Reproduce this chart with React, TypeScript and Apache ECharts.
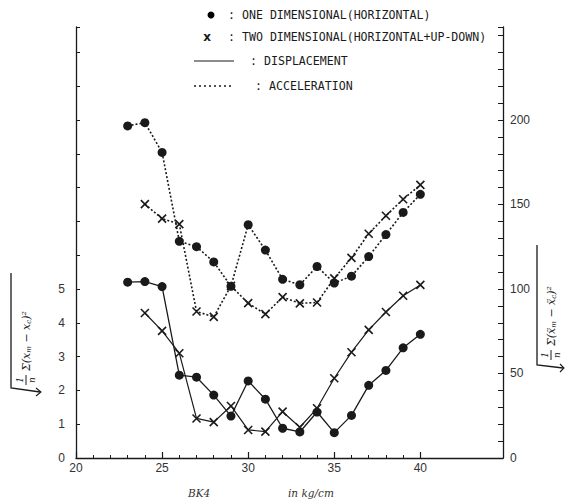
import React, { useEffect, useRef } from "react";
import * as echarts from "echarts";

const xValues = [23, 24, 25, 26, 27, 28, 29, 30, 31, 32, 33, 34, 35, 36, 37, 38, 39, 40];
// displacement (left axis)
const dispOne = [5.2, 5.22, 5.07, 2.45, 2.39, 1.86, 1.24, 2.28, 1.74, 0.88, 0.77, 1.36, 0.75, 1.26, 2.15, 2.59, 3.26, 3.66];
const dispTwo = [null, 4.29, 3.76, 3.1, 1.17, 1.06, 1.54, 0.83, 0.78, 1.37, 0.91, 1.47, 2.36, 3.13, 3.79, 4.32, 4.8, 5.12];
// acceleration (right axis)
const accOne = [196.5, 198.4, 180.8, 128.2, 125, 116, 101.6, 138, 123, 105.7, 102.5, 113.3, 103.5, 107.6, 119.2, 132.2, 145.3, 156];
const accTwo = [null, 150.2, 141.6, 138.4, 86.7, 83.5, 101.8, 91.6, 85.1, 95.2, 91.5, 92, 106.3, 118.4, 132.7, 143.3, 153.1, 161.6];

const xLabelValues = [20, 25, 30, 35, 40];
const xMinorTicks = [20, 21, 22, 23, 24, 25, 26, 27, 28, 29, 30, 31, 32, 33, 34, 35, 36, 37, 38, 39, 40];
const leftLabels = [0, 1, 2, 3, 4, 5];
const rightLabels = [0, 50, 100, 150, 200];

const legendOne = ": ONE DIMENSIONAL(HORIZONTAL)";
const legendTwo = ": TWO DIMENSIONAL(HORIZONTAL+UP-DOWN)";
const legendDisp = ": DISPLACEMENT";
const legendAcc = ": ACCELERATION";

const INK = "#1a1a1a";
const X_PATH = "path://M0,0L10,10M10,0L0,10";

function pairs(vals: (number | null)[]) {
  const out: [number, number][] = [];
  vals.forEach((v, i) => {
    if (v !== null) out.push([xValues[i], v]);
  });
  return out;
}

function formulaGroup(cx: number, cy: number, body: string) {
  const f = { fontFamily: "DejaVu Serif", fontStyle: "italic", fill: INK } as any;
  return {
    type: "group",
    x: cx,
    y: cy,
    rotation: Math.PI / 2,
    children: [
      { type: "text", x: -50, y: -6, style: { ...f, text: "1", fontSize: 9, textAlign: "center", textVerticalAlign: "middle" } },
      { type: "line", shape: { x1: -55, y1: 0, x2: -45, y2: 0 }, style: { stroke: INK, lineWidth: 1 } },
      { type: "text", x: -50, y: 6, style: { ...f, text: "n", fontSize: 9, textAlign: "center", textVerticalAlign: "middle" } },
      {
        type: "text",
        x: -41,
        y: 0,
        style: {
          ...f,
          text: body,
          fontSize: 11,
          textAlign: "left",
          textVerticalAlign: "middle",
          rich: { s: { fontFamily: "DejaVu Serif", fontStyle: "italic", fontSize: 7, verticalAlign: "bottom", padding: [6, 0, 0, 0] } },
        },
      },
    ],
  };
}

export default function App() {
  const ref = useRef<HTMLDivElement>(null);
  useEffect(() => {
    if (!ref.current) return;
    const chart = echarts.init(ref.current, undefined, { renderer: "svg" });
    const legendFont = { fontFamily: "DejaVu Sans Mono", fontSize: 11.6, fill: INK };
    const dotStyle = { color: INK };
    chart.setOption({
      animation: false,
      backgroundColor: "#fff",
      grid: { left: 76, right: 64, top: 27, bottom: 46, containLabel: false },
      xAxis: [
        {
          type: "value",
          min: 20,
          max: 44.8,
          interval: 1,
          splitLine: { show: false },
          axisLine: { show: true, lineStyle: { color: INK, width: 1.3 } },
          axisTick: { show: true, inside: true, length: 3, customValues: xMinorTicks, lineStyle: { color: INK } },
          axisLabel: {
            customValues: xLabelValues,
            color: "#333",
            fontFamily: "Liberation Sans",
            fontSize: 12,
            margin: 4,
          },
        },
        {
          type: "value",
          position: "bottom",
          min: 20,
          max: 44.8,
          interval: 5,
          splitLine: { show: false },
          axisLine: { show: false },
          axisTick: { show: true, inside: true, length: 6, customValues: xLabelValues, lineStyle: { color: INK, width: 1.2 } },
          axisLabel: { show: false },
        },
      ],
      yAxis: [
        {
          type: "value",
          position: "left",
          min: 0,
          max: 12.75,
          interval: 1,
          splitLine: { show: false },
          axisLine: { show: true, lineStyle: { color: INK, width: 1.3 } },
          axisTick: { show: true, inside: true, length: 4, lineStyle: { color: INK } },
          axisLabel: {
            customValues: leftLabels,
            color: "#333",
            fontFamily: "Liberation Sans",
            fontSize: 12,
            margin: 11,
          },
        },
        {
          type: "value",
          position: "right",
          min: 0,
          max: 255,
          interval: 10,
          splitLine: { show: false },
          axisLine: { show: true, lineStyle: { color: INK, width: 1.3 } },
          axisTick: { show: true, inside: true, length: 5, lineStyle: { color: INK } },
          axisLabel: {
            customValues: rightLabels,
            color: "#333",
            fontFamily: "Liberation Sans",
            fontSize: 12,
            margin: 7,
          },
        },
      ],
      series: [
        {
          type: "line",
          name: "dispOne",
          yAxisIndex: 0,
          data: pairs(dispOne),
          symbol: "circle",
          symbolSize: 9,
          itemStyle: { color: INK },
          lineStyle: { color: INK, width: 1.3, type: "solid" },
        },
        {
          type: "line",
          name: "dispTwo",
          yAxisIndex: 0,
          data: pairs(dispTwo),
          symbol: X_PATH,
          symbolSize: 8,
          itemStyle: { color: "none", borderColor: INK, borderWidth: 1.6 },
          lineStyle: { color: INK, width: 1.2, type: "solid" },
        },
        {
          type: "line",
          name: "accOne",
          yAxisIndex: 1,
          data: pairs(accOne),
          symbol: "circle",
          symbolSize: 9,
          itemStyle: { color: INK },
          lineStyle: { color: INK, width: 1.6, type: [2, 2] },
        },
        {
          type: "line",
          name: "accTwo",
          yAxisIndex: 1,
          data: pairs(accTwo),
          symbol: X_PATH,
          symbolSize: 8,
          itemStyle: { color: "none", borderColor: INK, borderWidth: 1.6 },
          lineStyle: { color: INK, width: 1.6, type: [2, 2] },
        },
      ],
      graphic: [
        { type: "circle", shape: { cx: 211, cy: 15, r: 3.5 }, style: dotStyle },
        { type: "text", x: 228, y: 15, style: { text: legendOne, ...legendFont, textVerticalAlign: "middle" } },
        { type: "text", x: 207, y: 37, style: { text: "x", fontFamily: "DejaVu Sans", fontSize: 12, fontWeight: "bold", fill: INK, textAlign: "center", textVerticalAlign: "middle" } },
        { type: "text", x: 228, y: 37, style: { text: legendTwo, ...legendFont, textVerticalAlign: "middle" } },
        { type: "line", shape: { x1: 194, y1: 61, x2: 234, y2: 61 }, style: { stroke: INK, lineWidth: 1.2 } },
        { type: "text", x: 250, y: 61, style: { text: legendDisp, ...legendFont, textVerticalAlign: "middle" } },
        { type: "line", shape: { x1: 194, y1: 86, x2: 234, y2: 86 }, style: { stroke: INK, lineWidth: 1.4, lineDash: [2, 3] } },
        { type: "text", x: 255, y: 86, style: { text: legendAcc, ...legendFont, textVerticalAlign: "middle" } },
        // left axis title (radical + expression)
        { type: "polyline", shape: { points: [[11, 273], [11, 388], [40, 392]] }, style: { stroke: INK, lineWidth: 1.3, fill: "none" } },
        { type: "polyline", shape: { points: [[36, 388], [41, 392], [36, 396]] }, style: { stroke: INK, lineWidth: 1.1, fill: "none" } },
        formulaGroup(26, 330, "Σ(x{s|m} − x{s|c})²"),
        // right axis title
        { type: "polyline", shape: { points: [[537, 245], [537, 365], [563, 368]] }, style: { stroke: INK, lineWidth: 1.3, fill: "none" } },
        { type: "polyline", shape: { points: [[560, 364], [564, 368], [560, 372]] }, style: { stroke: INK, lineWidth: 1.1, fill: "none" } },
        formulaGroup(551, 305, "Σ(ẍ{s|m} − ẍ{s|c})²"),
        // x axis title
        { type: "text", x: 188, y: 493, style: { text: "BK4", fontFamily: "DejaVu Serif", fontStyle: "italic", fontSize: 10.5, fill: "#333", textVerticalAlign: "middle" } },
        { type: "text", x: 288, y: 493, style: { text: "in kg/cm", fontFamily: "DejaVu Serif", fontStyle: "italic", fontSize: 10.5, fill: "#333", textVerticalAlign: "middle" } },
      ],
    });
    return () => chart.dispose();
  }, []);
  return <div ref={ref} style={{ width: 567, height: 504, position: "absolute", left: 0, top: 0 }} />;
}
